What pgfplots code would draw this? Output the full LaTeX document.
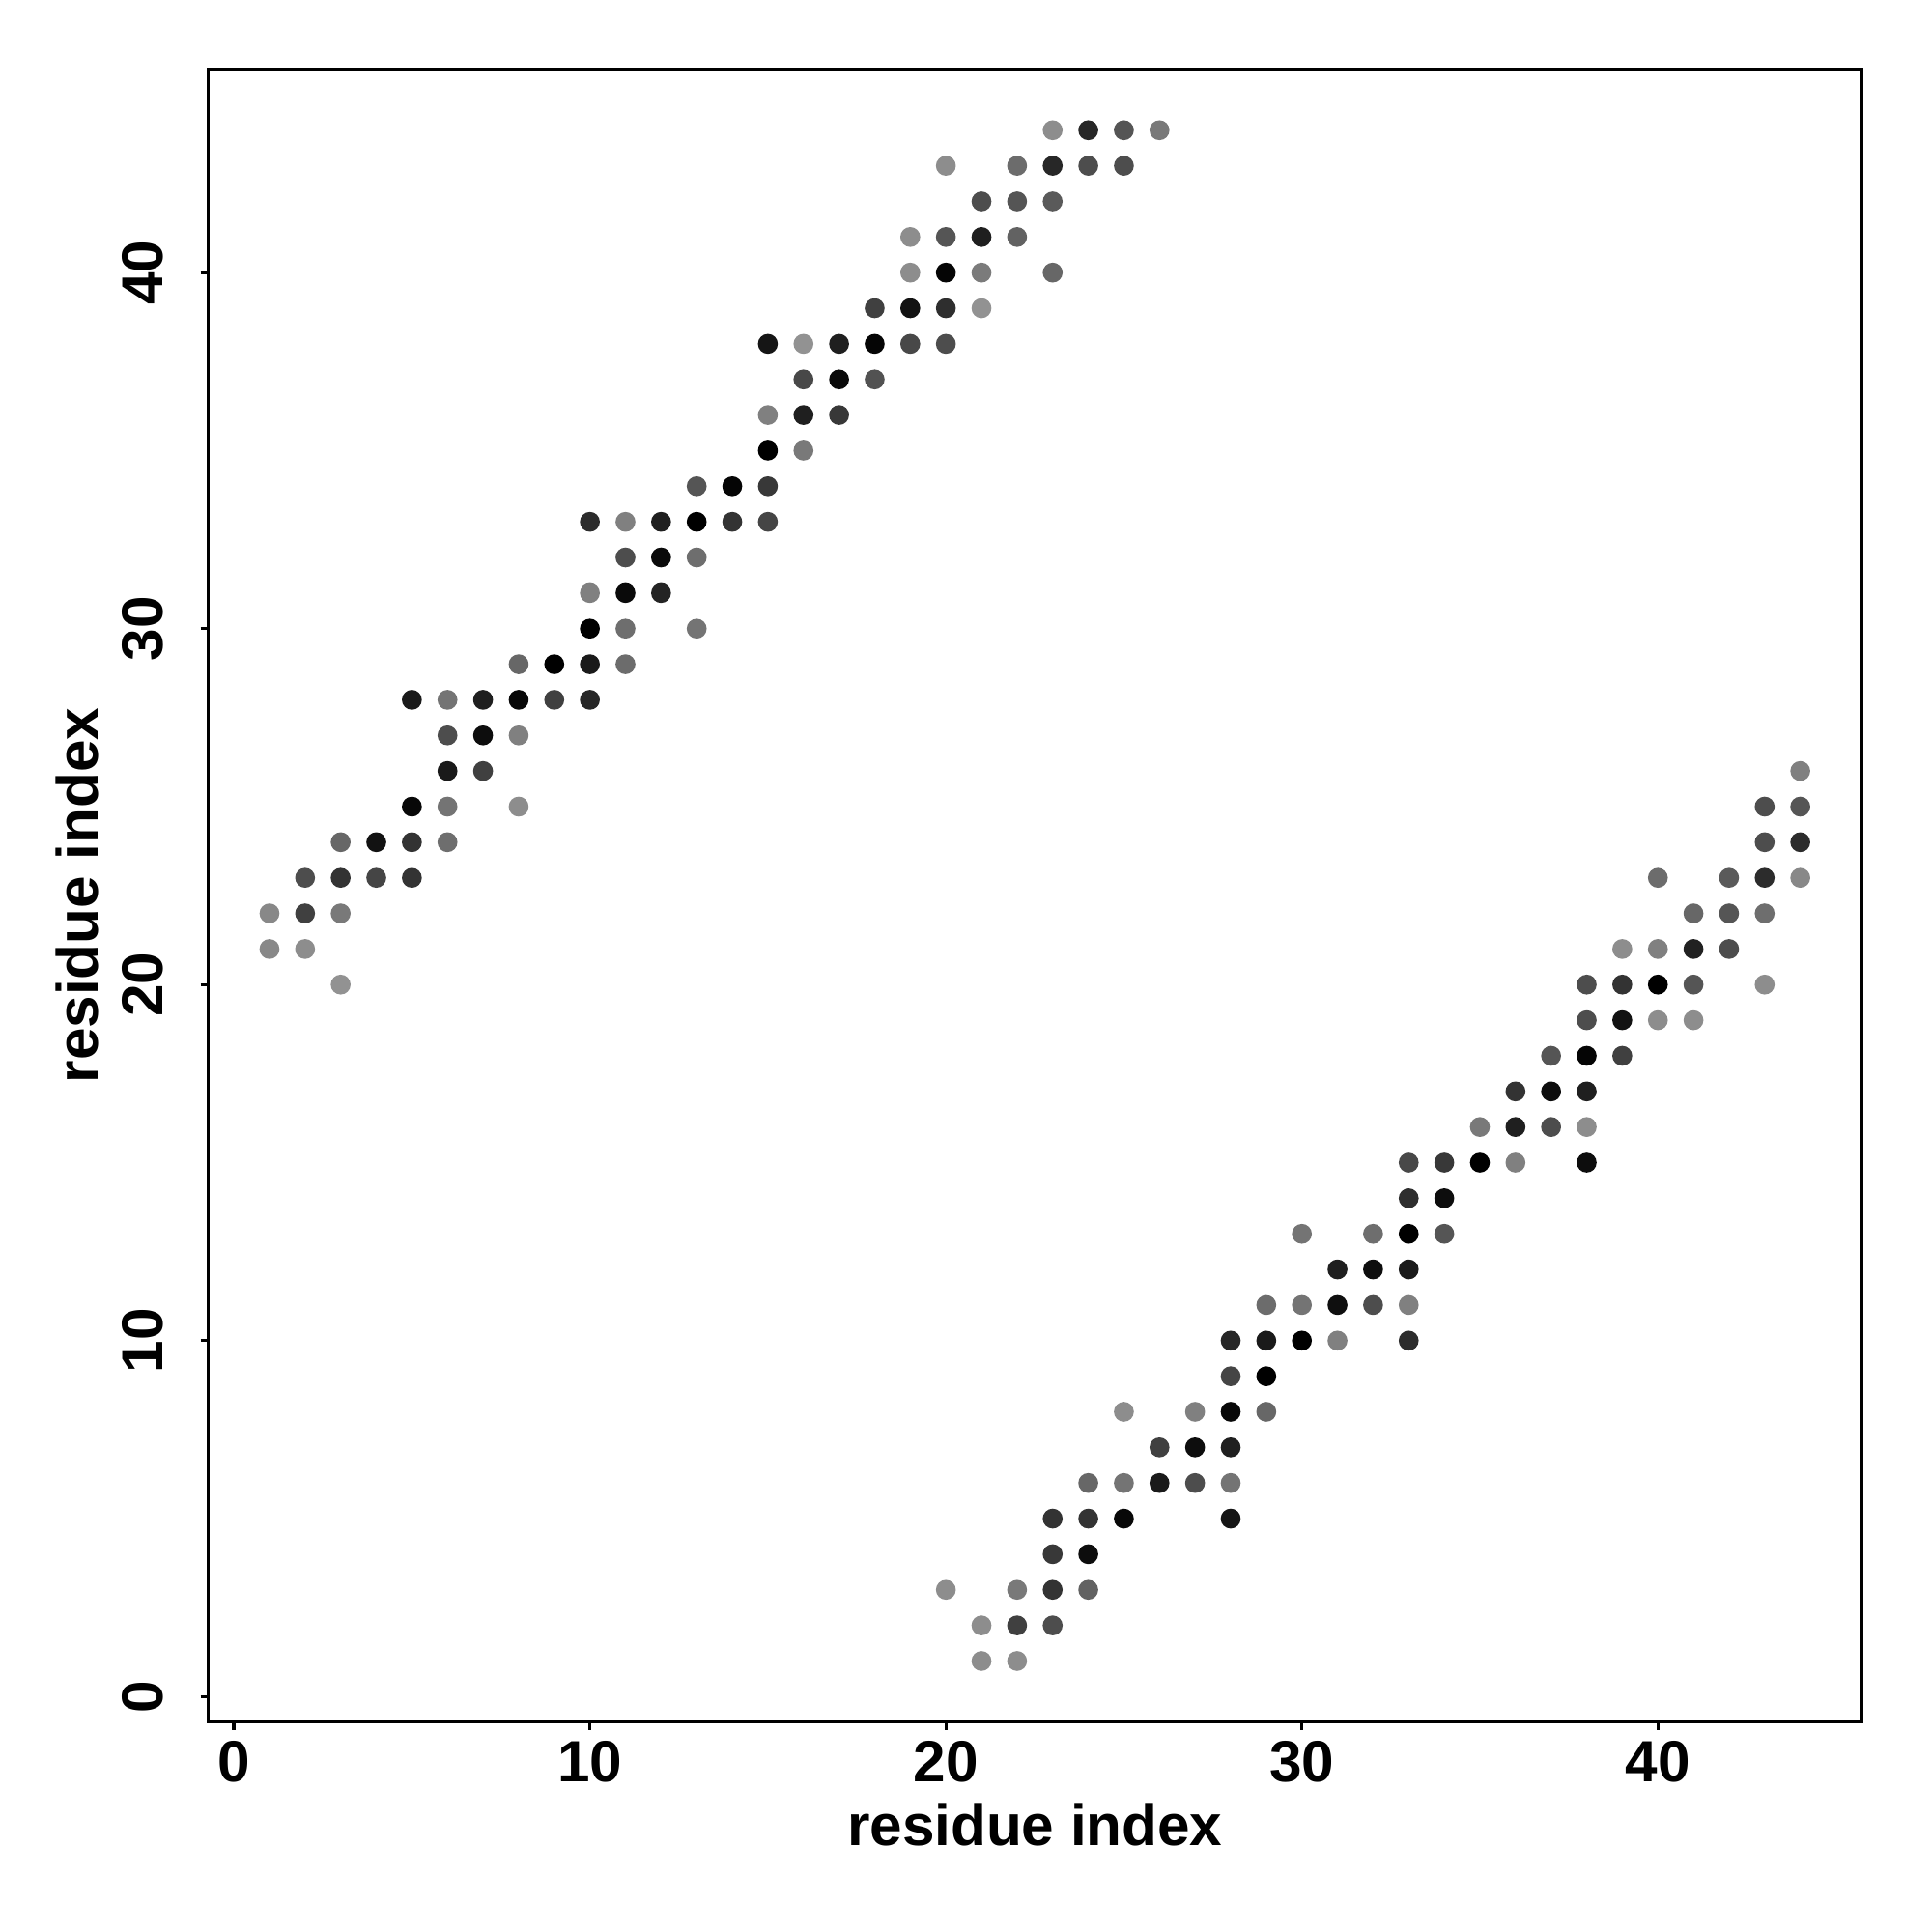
\documentclass[border=0pt]{standalone}
\usepackage{fontspec}
\setmainfont{Liberation Sans}
\usepackage{pgfplots}
\usepackage{pgfplotstable}
\pgfplotsset{compat=1.18}
\pgfplotstableread{
x y g
3 20 0.57
1 21 0.53
2 21 0.55
1 22 0.53
2 22 0.25
3 22 0.47
2 23 0.30
3 23 0.20
4 23 0.27
5 23 0.20
3 24 0.40
4 24 0.07
5 24 0.20
6 24 0.43
5 25 0.03
6 25 0.45
8 25 0.55
6 26 0.10
7 26 0.25
6 27 0.30
7 27 0.05
8 27 0.50
5 28 0.10
6 28 0.45
7 28 0.12
8 28 0.03
9 28 0.25
10 28 0.15
8 29 0.40
9 29 0.00
10 29 0.10
11 29 0.42
10 30 0.00
11 30 0.43
13 30 0.45
10 31 0.50
11 31 0.04
12 31 0.14
11 32 0.30
12 32 0.04
13 32 0.43
10 33 0.17
11 33 0.50
12 33 0.12
13 33 0.00
14 33 0.20
15 33 0.27
13 34 0.33
14 34 0.02
15 34 0.22
15 35 0.00
16 35 0.47
15 36 0.50
16 36 0.12
17 36 0.22
16 37 0.28
17 37 0.04
18 37 0.32
15 38 0.08
16 38 0.57
17 38 0.12
18 38 0.02
19 38 0.28
20 38 0.30
18 39 0.25
19 39 0.07
20 39 0.18
21 39 0.57
19 40 0.55
20 40 0.02
21 40 0.48
23 40 0.40
19 41 0.55
20 41 0.33
21 41 0.12
22 41 0.38
21 42 0.30
22 42 0.33
23 42 0.35
20 43 0.55
22 43 0.42
23 43 0.15
24 43 0.30
25 43 0.30
23 44 0.55
24 44 0.15
25 44 0.33
26 44 0.47
}\upperband
\pgfplotstableread{
x y g
21 1 0.55
22 1 0.55
21 2 0.55
22 2 0.25
23 2 0.30
20 3 0.55
22 3 0.47
23 3 0.20
24 3 0.38
23 4 0.22
24 4 0.05
23 5 0.20
24 5 0.20
25 5 0.03
28 5 0.08
24 6 0.40
25 6 0.45
26 6 0.10
27 6 0.30
28 6 0.45
26 7 0.25
27 7 0.05
28 7 0.12
25 8 0.55
27 8 0.50
28 8 0.03
29 8 0.40
28 9 0.27
29 9 0.00
28 10 0.15
29 10 0.10
30 10 0.00
31 10 0.50
33 10 0.17
29 11 0.42
30 11 0.45
31 11 0.06
32 11 0.30
33 11 0.50
31 12 0.12
32 12 0.05
33 12 0.10
30 13 0.45
32 13 0.43
33 13 0.00
34 13 0.33
33 14 0.18
34 14 0.05
33 15 0.28
34 15 0.22
35 15 0.00
36 15 0.50
38 15 0.05
35 16 0.47
36 16 0.12
37 16 0.30
38 16 0.55
36 17 0.20
37 17 0.05
38 17 0.12
37 18 0.33
38 18 0.02
39 18 0.25
38 19 0.30
39 19 0.07
40 19 0.55
41 19 0.55
38 20 0.30
39 20 0.20
40 20 0.00
41 20 0.33
43 20 0.55
39 21 0.55
40 21 0.50
41 21 0.13
42 21 0.30
41 22 0.40
42 22 0.33
43 22 0.43
40 23 0.42
42 23 0.35
43 23 0.17
44 23 0.53
43 24 0.30
44 24 0.17
43 25 0.30
44 25 0.33
44 26 0.50
}\lowerband
\begin{document}
\begin{tikzpicture}
\useasboundingbox (-1.509cm,-1.52cm) rectangle (12.491cm,12.48cm);
\begin{axis}[
  at={(0,0)}, anchor=south west,
  scale only axis, width=11.98cm, height=11.98cm,
  xmin=-0.72, xmax=45.72, ymin=-0.72, ymax=45.72,
  axis line style={line width=0.65pt},
  xtick={0,10,20,30,40}, ytick={0,10,20,30,40},
  minor tick num=0,
  tick pos=left,
  tick align=outside,
  major tick length=0.056cm,
  every tick/.style={line width=0.65pt, black},
  /pgf/number format/assume math mode=true,
  xticklabel style={font=\bfseries\fontsize{12}{14}\selectfont, anchor=base, inner sep=0pt, yshift=-0.375cm},
  yticklabel style={font=\bfseries\fontsize{12}{14}\selectfont, anchor=base, inner sep=0pt, xshift=-0.275cm, rotate=90},
  xlabel={residue index}, ylabel={residue index},
  xlabel style={font=\bfseries\fontsize{12}{14}\selectfont, at={(axis description cs:0.5,-0.0745)}, anchor=base, inner sep=0pt},
  ylabel style={font=\bfseries\fontsize{12}{14}\selectfont, at={(axis description cs:-0.0664,0.5)}, anchor=base, inner sep=0pt},
  colormap={bw}{gray(0cm)=(0); gray(1cm)=(1)},
  point meta min=0, point meta max=1,
]
\addplot[scatter, only marks, mark=*, mark size=1.85pt, point meta=explicit,
  scatter/use mapped color={draw=mapped color, fill=mapped color}]
  table[x=x, y=y, meta=g] {\upperband};
\addplot[scatter, only marks, mark=*, mark size=1.85pt, point meta=explicit,
  scatter/use mapped color={draw=mapped color, fill=mapped color}]
  table[x=x, y=y, meta=g] {\lowerband};
\end{axis}
\end{tikzpicture}
\end{document}
